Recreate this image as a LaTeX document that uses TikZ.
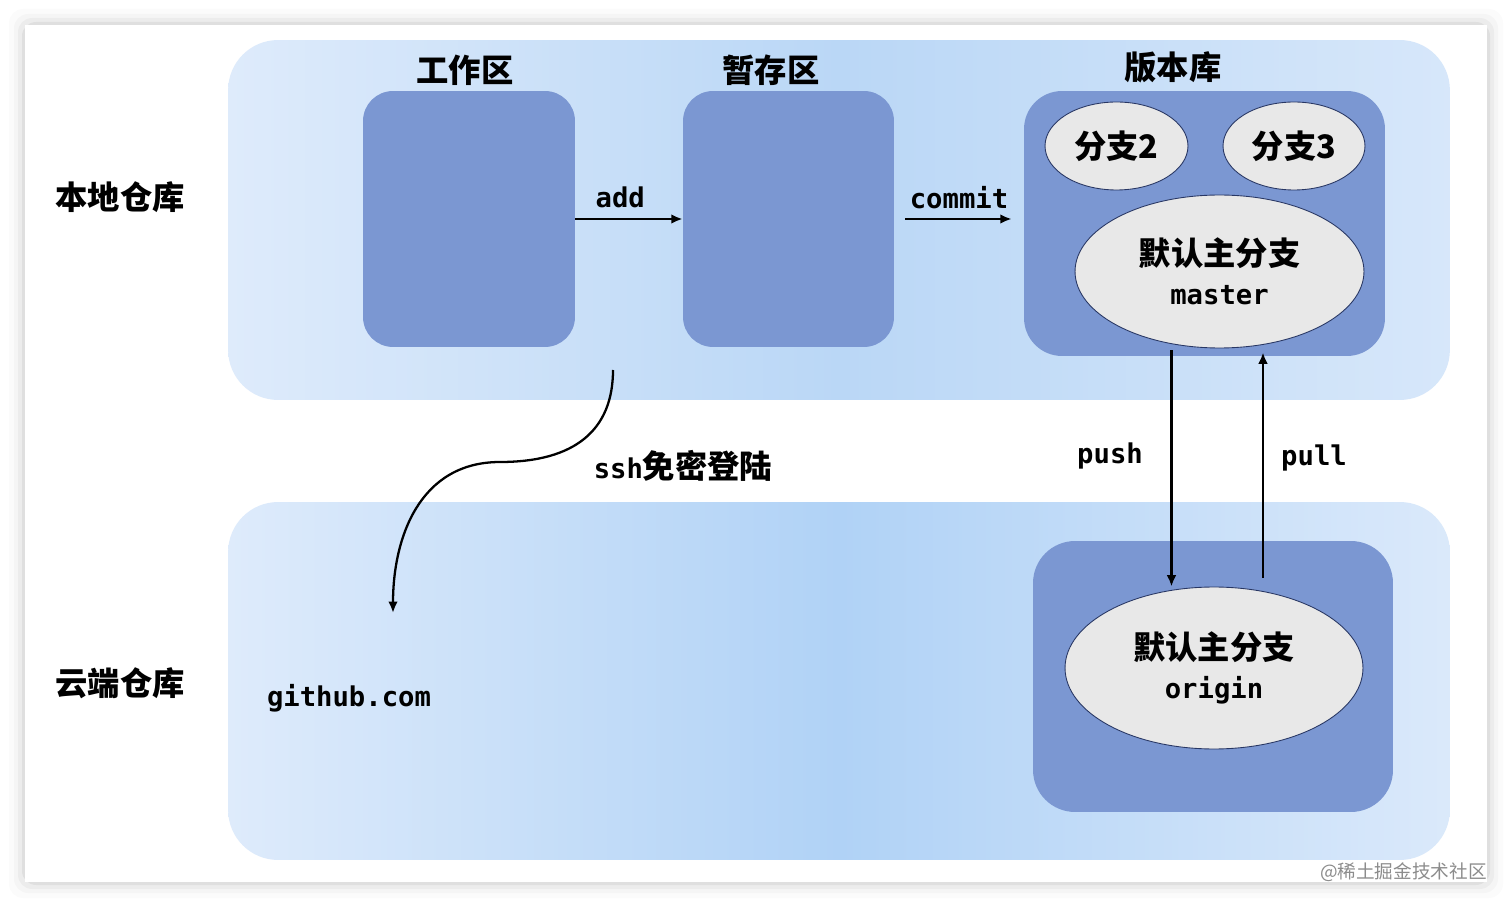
\documentclass[tikz,border=0pt]{standalone}
\usepackage{fontspec}
\newfontfamily\cjk{Noto Sans CJK SC}
\newfontfamily\mono{DejaVu Sans Mono}
\usetikzlibrary{positioning,arrows.meta,calc,shapes.geometric}
\definecolor{boxblue}{RGB}{123,151,210}
\definecolor{ovalgray}{RGB}{232,232,232}
\definecolor{ovalline}{RGB}{40,55,100}
\definecolor{skyedge}{RGB}{222,235,251}
\definecolor{skymid}{RGB}{186,215,246}
\definecolor{skydeep}{RGB}{176,210,246}
\newcommand{\entext}[1]{{\mono\bfseries\fontsize{15.5}{22}\selectfont #1}}

\begin{document}
\begin{tikzpicture}[x=0.02cm,y=0.02cm,
  every node/.style={inner sep=0pt},
  zh/.style={font=\cjk\bfseries\fontsize{18.4}{22}\selectfont},
  en/.style={font=\mono\bfseries\fontsize{15.5}{22}\selectfont},
  area/.style={rectangle,rounded corners=1cm,minimum width=24.44cm},
  pane/.style={rectangle,rounded corners=0.6cm,fill=boxblue},
  oval/.style={ellipse,fill=ovalgray,draw=ovalline,line width=0.5pt,align=center},
  flow/.style={-{Latex[length=6.5pt,width=5.5pt]},line width=1.3pt}]
\useasboundingbox (0,0) rectangle (1512,907);
% card
\fill[white] (0,0) rectangle (1512,907);
\foreach \s/\o in {16/0.015,11/0.025,7/0.035,3/0.05}
  {\fill[black,opacity=\o,rounded corners=8pt] (25-\s,25-\s) rectangle (1487+\s,882+\s);}
\fill[white] (25,25) rectangle (1487,882);
% areas
\node[area,minimum height=7.2cm,left color=skyedge,right color=skyedge!80!skymid,middle color=skymid] (local) at (839,687) {};
\node[area,minimum height=7.16cm,left color=skyedge,right color=skyedge!90!skymid,middle color=skydeep] (cloud) at (839,226) {};
\node[zh] (locallbl) at (120,710) {本地仓库};
\node[zh] (cloudlbl) at (120,224) {云端仓库};
% local repo
\node[pane,minimum width=4.24cm,minimum height=5.12cm] (work) at (469,688) {};
\node[pane,minimum width=4.22cm,minimum height=5.12cm] (stage) at (788.5,688) {};
\node[pane,rounded corners=0.76cm,minimum width=7.22cm,minimum height=5.3cm] (repo) at (1204.5,683.5) {};
\node[zh] (worktitle) at (465,837) {工作区};
\node[zh] (stagetitle) at (771,837) {暂存区};
\node[zh] (repotitle) at (1173,840) {版本库};
\node[oval,zh,minimum width=2.86cm,minimum height=1.76cm] (br2) at (1116.5,761) {分支2};
\node[oval,zh,minimum width=2.84cm,minimum height=1.76cm] (br3) at (1294,761) {分支3};
\node[oval,zh,minimum width=5.78cm,minimum height=3.06cm] (master) at (1219.5,635.5) {默认主分支\\\entext{master}};
% remote repo
\node[pane,rounded corners=0.84cm,minimum width=7.2cm,minimum height=5.42cm] (remote) at (1213,230.5) {};
\node[oval,zh,minimum width=5.96cm,minimum height=3.24cm] (origin) at (1214,239) {默认主分支\\\entext{origin}};
\node[en] (github) at (349,209) {github.com};
% add, commit
\draw[flow] (work.east) -- (stage.west) node[midway,above=5.5pt,en,xshift=-5pt] (addlbl) {add};
\draw[flow,shorten <=0.22cm,shorten >=0.24cm] (stage.east) -- (stage.east -| repo.west) node[midway,above=5pt,en] (commitlbl) {commit};
% push, pull
\coordinate (pushtop) at ($(master.south)+(-48,-2)$);
\coordinate (pullbot) at ($(origin.north)+(49,9)$);
\draw[flow] (pushtop) -- (pushtop |- origin.north);
\draw[flow,shorten >=0.08cm] (pullbot) -- (pullbot |- master.south);
\node[en] (pushlbl) at (1110,451) {push};
\node[en] (pulllbl) at (1314,449) {pull};
% ssh
\coordinate (sshfrom) at (613,537);
\coordinate (sshto) at (393,294);
\draw[flow] (sshfrom) .. controls (613,477) and (575,445) .. (500,445) .. controls (420,445) and (393,370) .. (sshto);
\node[zh] (sshlbl) at (683,441) {\entext{ssh}免密登陆};
\node[font=\cjk\fontsize{10.6}{12}\selectfont,text=black!45,anchor=east] (mark) at (1487,35) {@稀土掘金技术社区};
\end{tikzpicture}
\end{document}
